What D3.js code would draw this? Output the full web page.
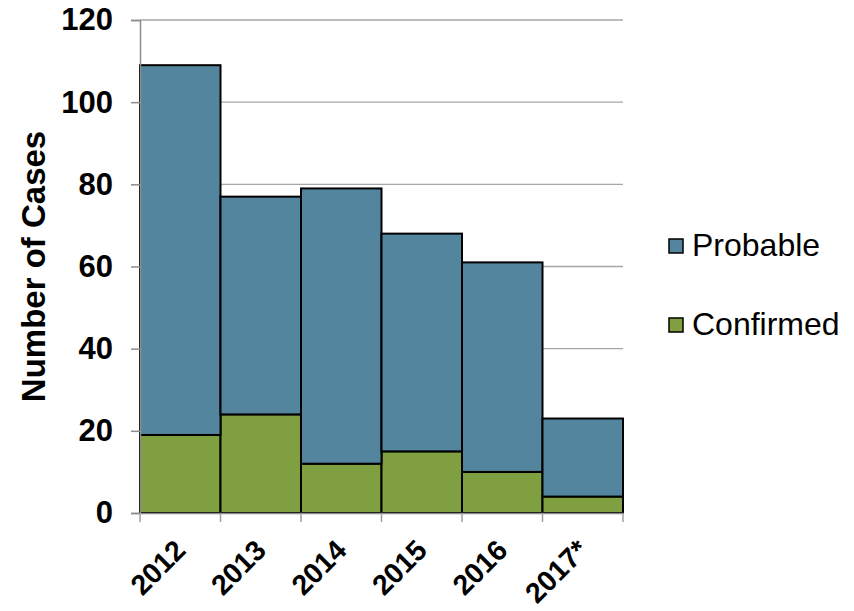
<!DOCTYPE html>
<html><head><meta charset="utf-8">
<script src="https://cdn.jsdelivr.net/npm/d3@7"></script>
<style>body{margin:0;background:#fff;} text{font-family:"Liberation Sans",Arial,sans-serif;}</style>
</head><body><svg id="c" width="854" height="611"></svg>
<script>
const categories = ["2012","2013","2014","2015","2016","2017*"];
const confirmed = [19,24,12,15,10,4];
const probable = [90,53,67,53,51,19];
const yTicks = [0,20,40,60,80,100,120];
const seriesNames = ["Confirmed","Probable"];
const colors = {Confirmed:"#7f9f40", Probable:"#53869e"};

(function(){
const svg = d3.select("#c");
const pL=140, pR=623, pT=20, pB=513;
const x = d3.scaleBand().domain(categories).range([pL,pR]).padding(0);
const y = d3.scaleLinear().domain([0,120]).range([pB,pT]);

// gridlines
svg.append("g").selectAll("line").data(yTicks.filter(d=>d>0)).join("line")
  .attr("x1",pL).attr("x2",pR).attr("y1",d=>y(d)).attr("y2",d=>y(d))
  .attr("stroke","#a6a6a6").attr("stroke-width",1.3);

// bars
const table = categories.map((c,i)=>({cat:c, Confirmed:confirmed[i], Probable:probable[i]}));
const stack = d3.stack().keys(seriesNames)(table);
svg.append("g").selectAll("g").data(stack).join("g").attr("fill",d=>colors[d.key])
  .selectAll("rect").data(d=>d).join("rect")
  .attr("x",d=>x(d.data.cat)).attr("width",x.bandwidth())
  .attr("y",d=>y(d[1])).attr("height",d=>y(d[0])-y(d[1]))
  .attr("stroke","#000").attr("stroke-width",2);

// y axis
const ya = svg.append("g").attr("transform",`translate(${pL},0)`)
  .call(d3.axisLeft(y).tickValues(yTicks).tickSize(9).tickPadding(18));
ya.select(".domain").attr("stroke","#8c8c8c").attr("stroke-width",1.5);
ya.selectAll(".tick line").attr("stroke","#8c8c8c").attr("stroke-width",1.5);
ya.selectAll(".tick text").attr("font-size",31).attr("font-weight","bold").attr("fill","#000")
  .attr("font-family","'Liberation Sans',Arial,sans-serif");

// x axis
const xa = svg.append("g").attr("transform",`translate(0,${pB})`)
  .call(d3.axisBottom(x).tickSize(0).tickPadding(0));
xa.select(".domain").attr("stroke","#8c8c8c").attr("stroke-width",1.5);
xa.selectAll(".tick text").attr("font-size",28.5).attr("font-weight","bold").attr("fill","#000")
  .attr("font-family","'Liberation Sans',Arial,sans-serif")
  .attr("text-anchor","end").attr("dy",0)
  .attr("transform","translate(7,39) rotate(-45)");
// boundary ticks
const bounds = categories.map(c=>x(c)).concat([x.range()[1]]);
svg.append("g").selectAll("line").data(bounds).join("line")
  .attr("x1",d=>d).attr("x2",d=>d).attr("y1",pB).attr("y2",pB+9)
  .attr("stroke","#a0a0a0").attr("stroke-width",1.5);

// y title
svg.append("text").attr("transform",`translate(45,${(pT+pB)/2}) rotate(-90)`)
  .attr("text-anchor","middle").attr("font-size",33).attr("font-weight","bold").text("Number of Cases");

// legend
const legendItems = ["Probable","Confirmed"];
const lg = svg.append("g").selectAll("g").data(legendItems).join("g")
  .attr("transform",(d,i)=>`translate(669,${239+i*79})`);
lg.append("rect").attr("width",14).attr("height",14).attr("fill",d=>colors[d])
  .attr("stroke","#000").attr("stroke-width",1.5);
lg.append("text").attr("x",23).attr("y",17).attr("font-size",32).text(d=>d);
})();
</script></body></html>
